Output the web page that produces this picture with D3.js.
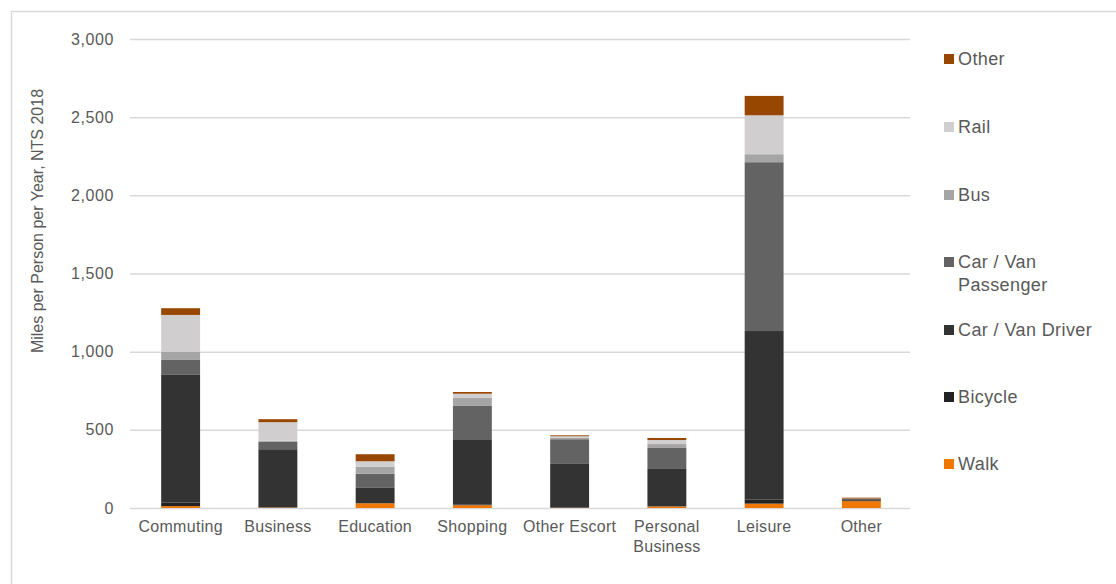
<!DOCTYPE html>
<html>
<head>
<meta charset="utf-8">
<script src="https://cdn.jsdelivr.net/npm/d3@7"></script>
<style>
  html, body { margin: 0; padding: 0; background: #fff; }
  svg { display: block; font-family: "Liberation Sans", Arial, sans-serif; }
</style>
</head>
<body>
<svg id="chart" width="1116" height="584"></svg>
<script>
const categories = ["Commuting", "Business", "Education", "Shopping", "Other Escort", "Personal Business", "Leisure", "Other"];
const seriesNames = ["Walk", "Bicycle", "Car / Van Driver", "Car / Van Passenger", "Bus", "Rail", "Other"];
const walk      = [12, 3, 30, 18, 2, 10, 28, 44];
const bicycle   = [22, 2, 1, 5, 0, 2, 27, 2];
const driver    = [821, 371, 101, 412, 280, 242, 1077, 10];
const passenger = [92, 48, 87, 218, 158, 130, 1080, 2];
const bus       = [53, 6, 45, 51, 10, 25, 51, 1];
const rail      = [235, 119, 35, 27, 9, 26, 249, 1];
const other     = [43, 19, 45, 11, 6, 13, 124, 6];
const yTicks = [0, 500, 1000, 1500, 2000, 2500, 3000];
const colors = ["#f07800", "#222222", "#333333", "#636363", "#a5a5a5", "#d0cece", "#984700"];

const seriesValues = [walk, bicycle, driver, passenger, bus, rail, other];
const rows = categories.map((c, i) => {
  const r = { category: c };
  seriesNames.forEach((s, j) => { r[s] = seriesValues[j][i]; });
  return r;
});
const stacked = d3.stack().keys(seriesNames)(rows);

const svg = d3.select("#chart");
const W = 1116, H = 584;

// outer frame
svg.append("path")
  .attr("d", `M11.5,${H} L11.5,11.5 L${W},11.5`)
  .attr("fill", "none").attr("stroke", "#d9d9d9").attr("stroke-width", 1.5);

const x = d3.scaleBand().domain(categories).range([132, 910]).paddingInner(0.6).paddingOuter(0.3);
const y = d3.scaleLinear().domain([0, 3000]).range([508, 39]);

// gridlines
const grid = svg.append("g").attr("transform", "translate(130,0)")
  .call(d3.axisLeft(y).tickValues(yTicks).tickSize(-(910 - 130)).tickFormat(""));
grid.select(".domain").remove();
grid.selectAll(".tick line").attr("stroke", "#d9d9d9").attr("stroke-width", 1.5);

// y tick labels
const yAxis = svg.append("g").attr("transform", "translate(114,0)")
  .call(d3.axisLeft(y).tickValues(yTicks).tickSize(0).tickPadding(0).tickFormat(d3.format(",")));
yAxis.select(".domain").remove();
yAxis.selectAll("text").attr("fill", "#595959").style("font-size", "16px")
  .attr("font-family", "Liberation Sans, Arial, sans-serif").attr("letter-spacing", "0.6px");

// bars
svg.append("g").selectAll("g").data(stacked).join("g")
  .attr("fill", (d, i) => colors[i])
  .selectAll("rect").data(d => d).join("rect")
  .attr("x", d => x(d.data.category))
  .attr("width", x.bandwidth())
  .attr("y", d => y(d[1]))
  .attr("height", d => Math.max(0, y(d[0]) - y(d[1])));

// x axis labels
const xAxis = svg.append("g").attr("transform", "translate(0,508)")
  .call(d3.axisBottom(x).tickSize(0).tickPadding(13));
xAxis.select(".domain").remove();
xAxis.selectAll("text").attr("fill", "#595959").style("font-size", "16px")
  .attr("font-family", "Liberation Sans, Arial, sans-serif").attr("letter-spacing", "0.3px")
  .each(function(d) {
    const t = d3.select(this);
    if (d === "Personal Business") {
      t.text(null);
      t.append("tspan").attr("x", 0).attr("dy", "0.71em").text("Personal");
      t.append("tspan").attr("x", 0).attr("dy", "1.2em").text("Business");
    }
  });

// y axis title
svg.append("text")
  .attr("transform", "translate(43,221) rotate(-90)")
  .attr("text-anchor", "middle")
  .attr("fill", "#595959").style("font-size", "16px")
  .text("Miles per Person per Year, NTS 2018");

// legend
const legendOrder = seriesNames.slice().reverse();
const legendY = [59, 127, 195, 262, 330, 397, 464];
const leg = svg.append("g");
legendOrder.forEach((name, i) => {
  const ci = seriesNames.indexOf(name);
  const g = leg.append("g").attr("transform", `translate(944,${legendY[i]})`);
  g.append("rect").attr("x", 0).attr("y", -5).attr("width", 10).attr("height", 10).attr("fill", colors[ci]);
  const t = g.append("text").attr("x", 14).attr("y", 0).attr("dy", "0.35em")
    .attr("fill", "#595959").style("font-size", "18px").attr("letter-spacing", "0.4px");
  if (name === "Car / Van Passenger") {
    t.append("tspan").attr("x", 14).text("Car / Van");
    t.append("tspan").attr("x", 14).attr("dy", "1.25em").text("Passenger");
  } else {
    t.text(name);
  }
});
</script>
</body>
</html>
